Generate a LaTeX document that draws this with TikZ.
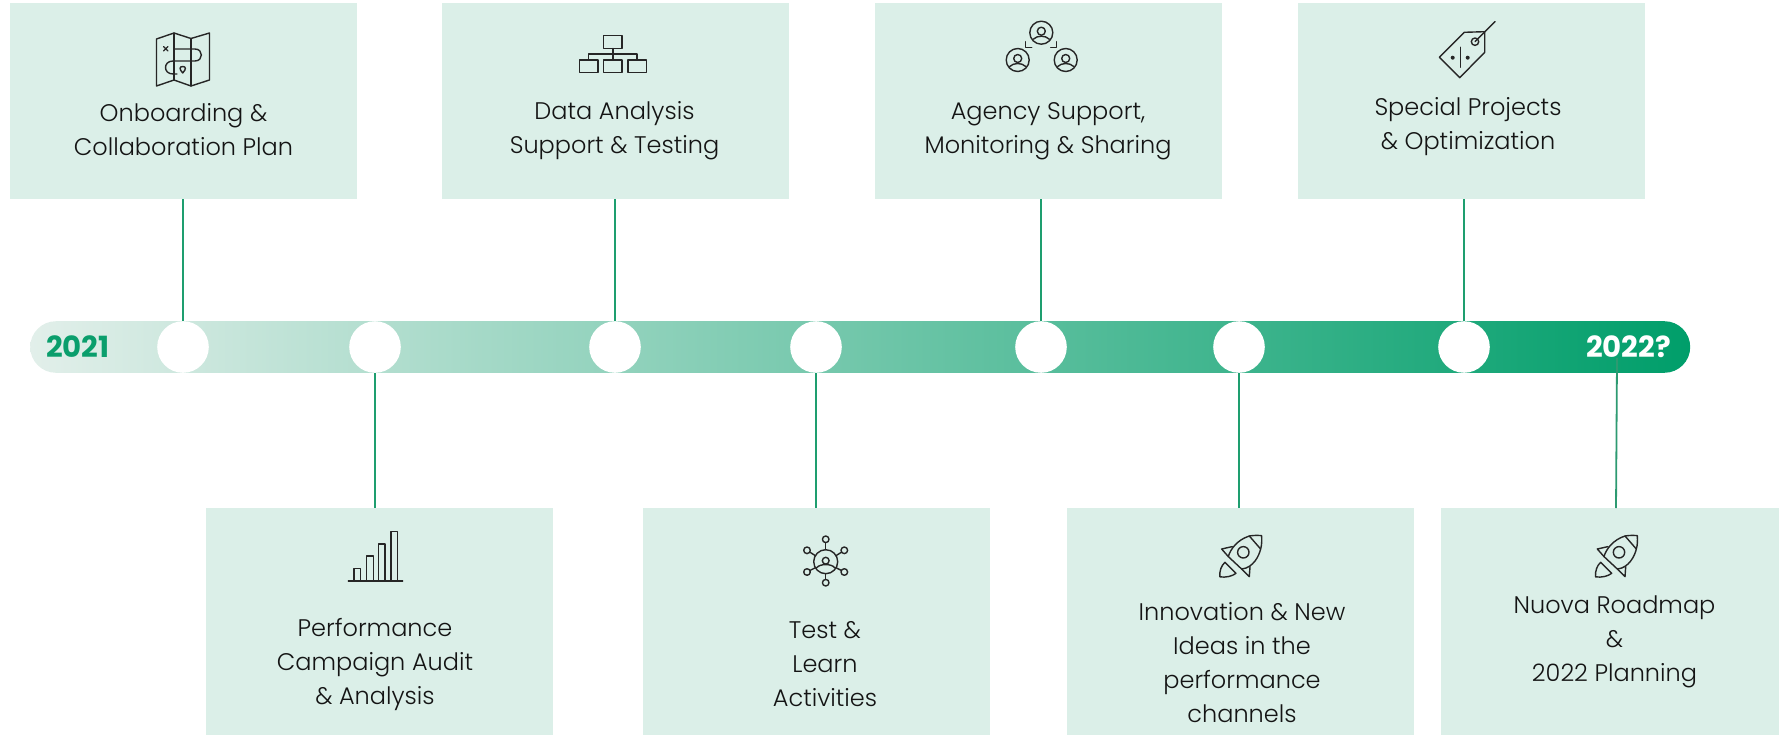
\documentclass[tikz,border=0pt]{standalone}
\usepackage{fontspec}
\setmainfont{Poppins Light}[BoldFont=Poppins Bold]
\usepackage{tikz}
\usetikzlibrary{positioning,calc}
\definecolor{tilegreen}{HTML}{DBEFE8}
\definecolor{linegreen}{HTML}{1E9E6F}
\definecolor{yeargreen}{HTML}{0A9E6C}
\definecolor{barstart}{HTML}{E2EFEA}
\definecolor{barend}{HTML}{009E6A}
\definecolor{iconink}{HTML}{262626}
\tikzset{
    tile/.style={fill=tilegreen, draw=none, anchor=north west, inner sep=0pt},
    toptile/.style={tile, minimum width=347pt, minimum height=196pt},
    lowtile/.style={tile, minimum width=347pt, minimum height=227pt},
    dot/.style={circle, fill=white, draw=none, minimum size=51.6pt, inner sep=0pt},
    caption/.style={align=center, text=black!92, inner sep=0pt, font=\fontsize{24}{34}\selectfont},
    year/.style={inner sep=0pt, font=\bfseries\fontsize{29.2}{29}\selectfont},
    stem/.style={linegreen, line width=2.4pt},
    icon/.style={iconink, line width=1.4pt, line join=round, line cap=round},
    pics/persona/.style={code={
        \draw[icon] (0,0) circle (11.5pt);
        \draw[icon] (0,-1.5) circle (4pt);
        \draw[icon] (-8,6.5) .. controls (-4,2.5) and (4,2.5) .. (8,6.5);
    }},
    pics/rocket/.style={code={
        \draw[icon] (0,0) circle (5.7pt);
        \draw[icon] (-15,4.3) .. controls (-13,-3) and (-6,-12.5) .. (6,-16.3)
            .. controls (10,-17) and (14,-17) .. (18.3,-16.7)
            .. controls (18.6,-12) and (18.5,-7) .. (17.3,-3.3)
            .. controls (16,3) and (10,15.7) .. (-1.7,16.7) -- cycle;
        \draw[icon] (6,-16.3) -- (17.3,-3.3);
        \draw[icon] (-15,4.3) -- (-21.7,-3.3) -- (-11,-5.7);
        \draw[icon] (-1.7,16.7) -- (6,24.3) -- (6.7,14.3);
        \draw[icon] (-18.3,10) -- (-7.3,21) .. controls (-11,24) and (-18,25.5) .. (-23.5,24.5)
            .. controls (-24,19) and (-22,13) .. (-18.3,10) -- cycle;
    }}
}
\begin{document}
\begin{tikzpicture}[x=1pt,y=-1pt]
    \useasboundingbox (0,0) rectangle (1779,735);

    \node[toptile] (plan) at (10,3) {};
    \node[toptile] (data) at (442,3) {};
    \node[toptile] (agency) at (875,3) {};
    \node[toptile] (special) at (1298,3) {};
    \node[lowtile] (audit) at (206,508) {};
    \node[lowtile] (learn) at (643,508) {};
    \node[lowtile] (ideas) at (1067,508) {};
    \node[lowtile, minimum width=338pt] (roadmap) at (1441,508) {};

    \node[left color=barstart, right color=barend, rounded corners=25.8pt, minimum width=1660pt,
        minimum height=51.6pt, inner sep=0pt, anchor=west] (bar) at (30,347) {};

    \foreach \name/\x in {a/183, b/375, c/615, d/816, e/1041, f/1239, g/1464}
    \node[dot] (dot\name) at (\x,347) {};

    \node[year, text=yeargreen, anchor=west] (startyear) at (46,347) {2021};
    \node[year, text=white, anchor=east] (endyear) at (1671,347) {2022?};

    \draw[stem] (dota.north) -- (dota.north |- plan.south);
    \draw[stem] (dotb.south) -- (dotb.south |- audit.north);
    \draw[stem] (dotc.north) -- (dotc.north |- data.south);
    \draw[stem] (dotd.south) -- (dotd.south |- learn.north);
    \draw[stem] (dote.north) -- (dote.north |- agency.south);
    \draw[stem] (dotf.south) -- (dotf.south |- ideas.north);
    \draw[stem] (dotg.north) -- (dotg.north |- special.south);
    \coordinate (stemtop) at (1617,358);
    \coordinate (stemfoot) at (1616,508);
    \draw[stem, line width=1.8pt, linegreen!85!gray] (stemtop) -- (stemfoot);

    \node[caption] (plantext) at (183.5,130) {Onboarding \&\\Collaboration Plan};
    \node[caption] (datatext) at (614.5,130.8) {Data Analysis\\Support \& Testing};
    \node[caption] (agencytext) at (1048,131) {Agency Support,\\Monitoring \& Sharing};
    \node[caption] (specialtext) at (1468,127) {Special Projects\\\& Optimization};
    \node[caption] (audittext) at (375,664) {Performance\\Campaign Audit\\\& Analysis};
    \node[caption] (learntext) at (825,664) {Test \&\\Learn\\Activities};
    \node[caption] (ideastext) at (1242,663) {Innovation \& New\\Ideas in the\\performance\\channels};
    \node[caption] (roadmaptext) at (1614.5,642) {Nuova Roadmap\\\&\\2022 Planning};

    \draw[icon] (156.5,39) -- (174,33) -- (191,38.5) -- (209.5,33) -- (209.5,80) -- (191,86) -- (174,80) -- (156.5,86) -- cycle;
    \draw[icon] (174,33) -- (174,80) (191,38.5) -- (191,86);
    \draw[icon] (163.5,46.5) -- (168,51) (168,46.5) -- (163.5,51);
    \draw[icon] (174,49) -- (195,49) .. controls (203.5,49) and (203.5,61) .. (195,61) -- (173,61)
        .. controls (163,61) and (163,74) .. (173,74) -- (177,74);
    \draw[icon] (182.7,73) .. controls (179,69) and (179.5,66.5) .. (182.7,66.5) .. controls (186,66.5) and (186.5,69) .. (182.7,73) -- cycle;

    \draw[icon] (603.5,35.5) rectangle (622,48.5);
    \draw[icon] (579.5,60) rectangle (598,72.5);
    \draw[icon] (603.5,60) rectangle (622,72.5);
    \draw[icon] (628,60) rectangle (646.5,72.5);
    \draw[icon] (613,48.5) -- (613,60) (588.5,60) -- (588.5,54) -- (637,54) -- (637,60);

    \pic at (1041.3,32.7) {persona};
    \pic at (1017.7,60) {persona};
    \pic at (1065.7,60) {persona};
    \draw[icon] (1025.7,41.7) -- (1025.7,47.3) -- (1031.7,47.3);
    \draw[icon] (1056.3,41.7) -- (1056.3,47.3) -- (1050.7,47.3);

    \draw[icon] (1464.3,32.3) -- (1484.7,31.7) -- (1484.7,52.3) -- (1459.7,77.7) -- (1439.3,57.3) -- cycle;
    \draw[icon] (1475,41.7) circle (3.7pt);
    \draw[icon] (1475,41.7) -- (1495,21.7);
    \draw[icon] (1460.3,47.3) -- (1460.3,67.3);
    \fill[iconink] (1452.7,57.7) circle (2pt) (1467.7,57.7) circle (2pt);

    \draw[icon] (348.3,581) -- (402.7,581);
    \draw[icon] (354,581) -- (354,568.7) -- (360.7,568.7) -- (360.7,581);
    \draw[icon] (366.7,581) -- (366.7,556) -- (373.3,556) -- (373.3,581);
    \draw[icon] (378.7,581) -- (378.7,544) -- (385,544) -- (385,581);
    \draw[icon] (391,581) -- (391,531.7) -- (397.7,531.7) -- (397.7,581);

    \draw[icon] (825.7,561.7) circle (12pt);
    \draw[icon] (825.7,560.7) circle (3.4pt);
    \draw[icon] (816.7,567.7) .. controls (820,563.5) and (831.4,563.5) .. (834.7,567.7);
    \foreach \px/\py/\qx/\qy in {825.7/539.3/825.7/549.7, 844.3/550.3/836/555.7, 844.3/572/836/567.7,
        825.7/582.7/825.7/573.7, 807/572/815.4/567.7, 807/550.3/815.4/555.7} {
        \draw[icon] (\px,\py) circle (3.3pt);
        \draw[icon] ($(\px,\py)!3.3pt!(\qx,\qy)$) -- (\qx,\qy);
    }

    \pic at (1243.3,552.3) {rocket};
    \pic at (1619,552.3) {rocket};
\end{tikzpicture}
\end{document}
